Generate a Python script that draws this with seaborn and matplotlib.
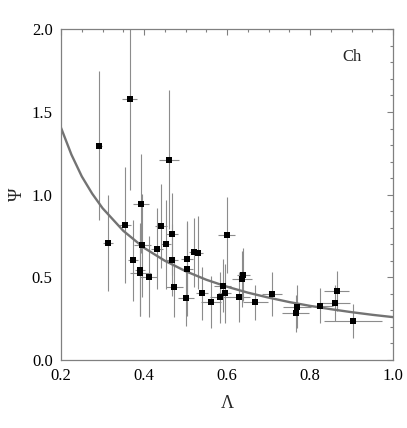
import numpy as np
import pandas as pd
import matplotlib
matplotlib.use('Agg')
import matplotlib.pyplot as plt
from matplotlib.ticker import MultipleLocator
import seaborn as sns

# measured points (Lambda, Psi) with errors
lam = [0.291, 0.365, 0.460, 0.393, 0.312, 0.354, 0.396, 0.373, 0.390, 0.391,
       0.411, 0.441, 0.431, 0.453, 0.4675, 0.467, 0.503, 0.503, 0.473, 0.501,
       0.521, 0.530, 0.599, 0.540, 0.561, 0.589, 0.583, 0.594, 0.629, 0.639,
       0.636, 0.668, 0.708, 0.768, 0.765, 0.824, 0.864, 0.860, 0.904]
psi = [1.297, 1.58, 1.21, 0.944, 0.705, 0.816, 0.693, 0.604, 0.547, 0.527,
       0.503, 0.810, 0.673, 0.699, 0.762, 0.604, 0.610, 0.553, 0.440, 0.376,
       0.650, 0.648, 0.758, 0.404, 0.349, 0.448, 0.378, 0.402, 0.380, 0.515,
       0.491, 0.349, 0.398, 0.321, 0.281, 0.329, 0.416, 0.345, 0.236]
lam_err = [0.008, 0.017, 0.025, 0.02, 0.012, 0.015, 0.02, 0.012, 0.012, 0.025,
           0.02, 0.015, 0.015, 0.012, 0.015, 0.015, 0.015, 0.015, 0.02, 0.02,
           0.012, 0.012, 0.021, 0.015, 0.025, 0.02, 0.025, 0.015, 0.025, 0.015,
           0.025, 0.03, 0.025, 0.033, 0.033, 0.03, 0.03, 0.036, 0.07]
psi_err = [0.45, 0.55, 0.42, 0.30, 0.29, 0.35, 0.31, 0.245, 0.28, 0.26,
           0.245, 0.255, 0.245, 0.27, 0.25, 0.22, 0.22, 0.29, 0.18, 0.17,
           0.21, 0.22, 0.23, 0.16, 0.157, 0.16, 0.155, 0.18, 0.15, 0.16,
           0.17, 0.106, 0.135, 0.13, 0.11, 0.107, 0.12, 0.11, 0.105]

# fitted curve
fit_lam = [0.2, 0.225, 0.25, 0.275, 0.3, 0.35, 0.4, 0.45, 0.5, 0.55, 0.6,
           0.65, 0.7, 0.75, 0.8, 0.85, 0.9, 0.95, 1.0]
fit_psi = [1.404, 1.242, 1.11, 1.006, 0.918, 0.781, 0.678, 0.600, 0.537, 0.485, 0.443,
           0.407, 0.377, 0.350, 0.327, 0.307, 0.289, 0.273, 0.259]

pts = pd.DataFrame({'lam': lam, 'psi': psi})
fit = pd.DataFrame({'lam': fit_lam, 'psi': fit_psi})

sns.set_theme(style='white')
plt.rcParams['font.family'] = ['Liberation Serif', 'DejaVu Serif']

fig = plt.figure(figsize=(4.07, 4.28), dpi=100)
ax = fig.add_axes([0.150, 0.159, 0.816, 0.7725])

ax.errorbar(lam, psi, xerr=lam_err, yerr=psi_err, fmt='none',
            ecolor='0.55', elinewidth=0.8, capsize=0, zorder=1)
sns.lineplot(data=fit, x='lam', y='psi', color='0.45', linewidth=1.7, ax=ax, zorder=2)
sns.scatterplot(data=pts, x='lam', y='psi', marker='s', color='black', s=22,
                linewidth=0, ax=ax, zorder=3)

ax.set_xlim(0.2, 1.0)
ax.set_ylim(0.0, 2.0)
ax.xaxis.set_major_locator(MultipleLocator(0.2))
ax.xaxis.set_minor_locator(MultipleLocator(0.05))
ax.yaxis.set_major_locator(MultipleLocator(0.5))
ax.yaxis.set_minor_locator(MultipleLocator(0.1))
ax.xaxis.set_major_formatter(plt.FormatStrFormatter('%.1f'))
ax.yaxis.set_major_formatter(plt.FormatStrFormatter('%.1f'))
ax.tick_params(which='both', direction='in', top=True, right=True,
               color='0.5', width=0.8, labelsize=12, labelcolor='black', pad=6)
ax.tick_params(which='major', length=4.2)
ax.tick_params(which='minor', length=2.4)
for sp in ax.spines.values():
    sp.set_color('0.5')
    sp.set_linewidth(0.9)

ax.set_xlabel('Λ', fontsize=13, labelpad=8)
ax.set_ylabel('Ψ', fontsize=13, labelpad=4)
ax.text(0.9, 1.83, 'Ch', fontsize=12, ha='center', va='center')

fig.savefig('out.png', dpi=100)
